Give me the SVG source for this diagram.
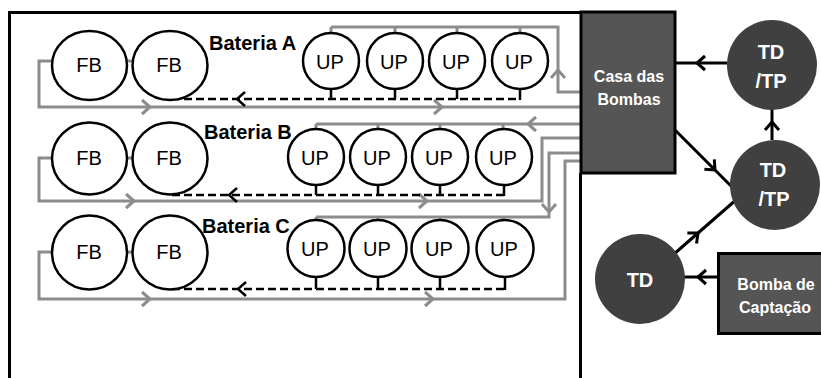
<svg xmlns="http://www.w3.org/2000/svg" width="821" height="378" viewBox="0 0 821 378">
<style>
.frame{fill:none;stroke:#000;stroke-width:3}
.tank{fill:#fff;stroke:#000;stroke-width:2.5}
.lbl{font-family:"Liberation Sans",Arial,sans-serif;font-size:20px;fill:#000;text-anchor:middle}
.bat{font-family:"Liberation Sans",Arial,sans-serif;font-size:20px;font-weight:bold;fill:#000}
.box{fill:#555;stroke:#000;stroke-width:3}
.dk{fill:#404040}
.wt{font-family:"Liberation Sans",Arial,sans-serif;font-weight:bold;fill:#fff;text-anchor:middle}
.pipe{fill:none;stroke:#8c8c8c;stroke-width:3}
.ret{fill:none;stroke:#000;stroke-width:2.5;stroke-dasharray:8 4}
.stub{fill:none;stroke:#000;stroke-width:2.5}
.link{fill:none;stroke:#000;stroke-width:3}
.cg{fill:none;stroke:#8c8c8c;stroke-width:3}
.cb{fill:none;stroke:#000;stroke-width:2.5}
</style>
<defs>
<path id="chev" d="M-8,-7 L0,0 L-8,7"/>
</defs>
<rect width="821" height="378" fill="#fff"/>
<path class="frame" d="M9.5,378 V12.5 H581 M580.5,173 V378"/>

<g id="connectors">
  <!-- Bateria A pipes -->
  <path class="pipe" d="M581,92 H558 V27 H331 M331,27 V42 M395,27 V42 M457,27 V42 M520,27 V42"/>
  <path class="pipe" d="M52,61 H39 V107 H581 M127,61 H133"/>
  <use href="#chev" class="cg" transform="translate(558,70) rotate(-90)"/>
  <use href="#chev" class="cg" transform="translate(150,107)"/>
  <use href="#chev" class="cg" transform="translate(442,107)"/>
  <path class="ret" d="M172,99 H520"/>
  <path class="stub" d="M331,89 V99 M395,89 V99 M457,89 V99 M520,89 V100"/>
  <use href="#chev" class="cb" transform="translate(237,99) rotate(180)"/>
  <!-- Bateria B pipes -->
  <path class="pipe" d="M581,124 H316 M316,124 V137 M378,124 V137 M440,124 V137 M503,124 V137"/>
  <path class="pipe" d="M52,158 H39 V201 H542 V138 H581 M127,158 H133"/>
  <use href="#chev" class="cg" transform="translate(528,124) rotate(180)"/>
  <use href="#chev" class="cg" transform="translate(134,201)"/>
  <use href="#chev" class="cg" transform="translate(427,201)"/>
  <path class="ret" d="M172,195 H504"/>
  <path class="stub" d="M316,185 V195 M378,185 V195 M440,185 V195 M504,185 V196"/>
  <use href="#chev" class="cb" transform="translate(229,195) rotate(180)"/>
  <!-- Bateria C pipes -->
  <path class="pipe" d="M581,153 H549 V217 H316 M316,217 V232 M378,217 V232 M440,217 V232 M503,217 V232"/>
  <path class="pipe" d="M52,252 H39 V299 H565 V161 H581 M127,252 H133"/>
  <use href="#chev" class="cg" transform="translate(549,212) rotate(90)"/>
  <use href="#chev" class="cg" transform="translate(150,299)"/>
  <use href="#chev" class="cg" transform="translate(433,299)"/>
  <path class="ret" d="M172,289 H505"/>
  <path class="stub" d="M316,277 V289 M378,277 V289 M440,277 V289 M505,277 V290"/>
  <use href="#chev" class="cb" transform="translate(238,289) rotate(180)"/>
  <!-- right side -->
  <path class="link" d="M727,63 H675"/>
  <use href="#chev" class="link" transform="translate(697,63) rotate(180)"/>
  <path class="link" d="M772,140 V108"/>
  <use href="#chev" class="link" transform="translate(772,122) rotate(-90)"/>
  <path class="link" d="M675,130 L733,188"/>
  <use href="#chev" class="link" transform="translate(715,170) rotate(45)"/>
  <path class="link" d="M674,254 L737,199"/>
  <use href="#chev" class="link" transform="translate(698,233) rotate(-41)"/>
  <path class="link" d="M718,277 H684"/>
  <use href="#chev" class="link" transform="translate(698,277) rotate(180)"/>
</g>

<g id="bateria-a">
  <g id="a-fb1"><ellipse class="tank" cx="89.5" cy="65.5" rx="37.5" ry="34.5"/><text class="lbl" x="89" y="72">FB</text></g>
  <g id="a-fb2"><ellipse class="tank" cx="170" cy="65.5" rx="37.5" ry="34.5"/><text class="lbl" x="169" y="72">FB</text></g>
  <text class="bat" x="209" y="50">Bateria A</text>
  <g id="a-up1"><circle class="tank" cx="331" cy="61" r="28"/><text class="lbl" x="330" y="69">UP</text></g>
  <g id="a-up2"><circle class="tank" cx="395" cy="61" r="28"/><text class="lbl" x="394" y="69">UP</text></g>
  <g id="a-up3"><circle class="tank" cx="457" cy="61" r="28"/><text class="lbl" x="456" y="69">UP</text></g>
  <g id="a-up4"><circle class="tank" cx="520" cy="61" r="28"/><text class="lbl" x="519" y="69">UP</text></g>
</g>

<g id="bateria-b">
  <g id="b-fb1"><ellipse class="tank" cx="89.5" cy="158.5" rx="37.5" ry="36"/><text class="lbl" x="89" y="165">FB</text></g>
  <g id="b-fb2"><ellipse class="tank" cx="170" cy="158.5" rx="37.5" ry="36"/><text class="lbl" x="169" y="165">FB</text></g>
  <text class="bat" x="204" y="139">Bateria B</text>
  <g id="b-up1"><circle class="tank" cx="316" cy="157" r="28"/><text class="lbl" x="315" y="165">UP</text></g>
  <g id="b-up2"><circle class="tank" cx="378" cy="157" r="28"/><text class="lbl" x="377" y="165">UP</text></g>
  <g id="b-up3"><circle class="tank" cx="440" cy="157" r="28"/><text class="lbl" x="439" y="165">UP</text></g>
  <g id="b-up4"><circle class="tank" cx="504" cy="157" r="28"/><text class="lbl" x="503" y="165">UP</text></g>
</g>

<g id="bateria-c">
  <g id="c-fb1"><ellipse class="tank" cx="89.5" cy="252.5" rx="37.5" ry="37"/><text class="lbl" x="89" y="259">FB</text></g>
  <g id="c-fb2"><ellipse class="tank" cx="170" cy="252.5" rx="37.5" ry="37"/><text class="lbl" x="169" y="259">FB</text></g>
  <text class="bat" x="202" y="233">Bateria C</text>
  <g id="c-up1"><circle class="tank" cx="316" cy="248.5" r="28.5"/><text class="lbl" x="315" y="256">UP</text></g>
  <g id="c-up2"><circle class="tank" cx="378" cy="248.5" r="28.5"/><text class="lbl" x="377" y="256">UP</text></g>
  <g id="c-up3"><circle class="tank" cx="440" cy="248.5" r="28.5"/><text class="lbl" x="439" y="256">UP</text></g>
  <g id="c-up4"><circle class="tank" cx="505" cy="248.5" r="28.5"/><text class="lbl" x="504" y="256">UP</text></g>
</g>

<g id="casa-das-bombas">
  <rect class="box" x="581" y="12" width="94" height="161"/>
  <text class="wt" x="629" y="82" font-size="16">Casa das</text>
  <text class="wt" x="629" y="105" font-size="16">Bombas</text>
</g>

<g id="td-tp-1">
  <circle class="dk" cx="772" cy="65" r="45"/>
  <text class="wt" x="771" y="59" font-size="20">TD</text>
  <text class="wt" x="771" y="88" font-size="20">/TP</text>
</g>

<g id="td-tp-2">
  <circle class="dk" cx="775" cy="185" r="45"/>
  <text class="wt" x="773" y="177" font-size="20">TD</text>
  <text class="wt" x="774" y="206" font-size="20">/TP</text>
</g>

<g id="td">
  <circle class="dk" cx="640" cy="279" r="45"/>
  <text class="wt" x="640" y="287" font-size="20">TD</text>
</g>

<g id="bomba-de-captacao">
  <rect class="box" x="718.5" y="253.5" width="110" height="80"/>
  <text class="wt" x="776" y="290" font-size="16">Bomba de</text>
  <text class="wt" x="775" y="313" font-size="16">Captação</text>
</g>
</svg>
